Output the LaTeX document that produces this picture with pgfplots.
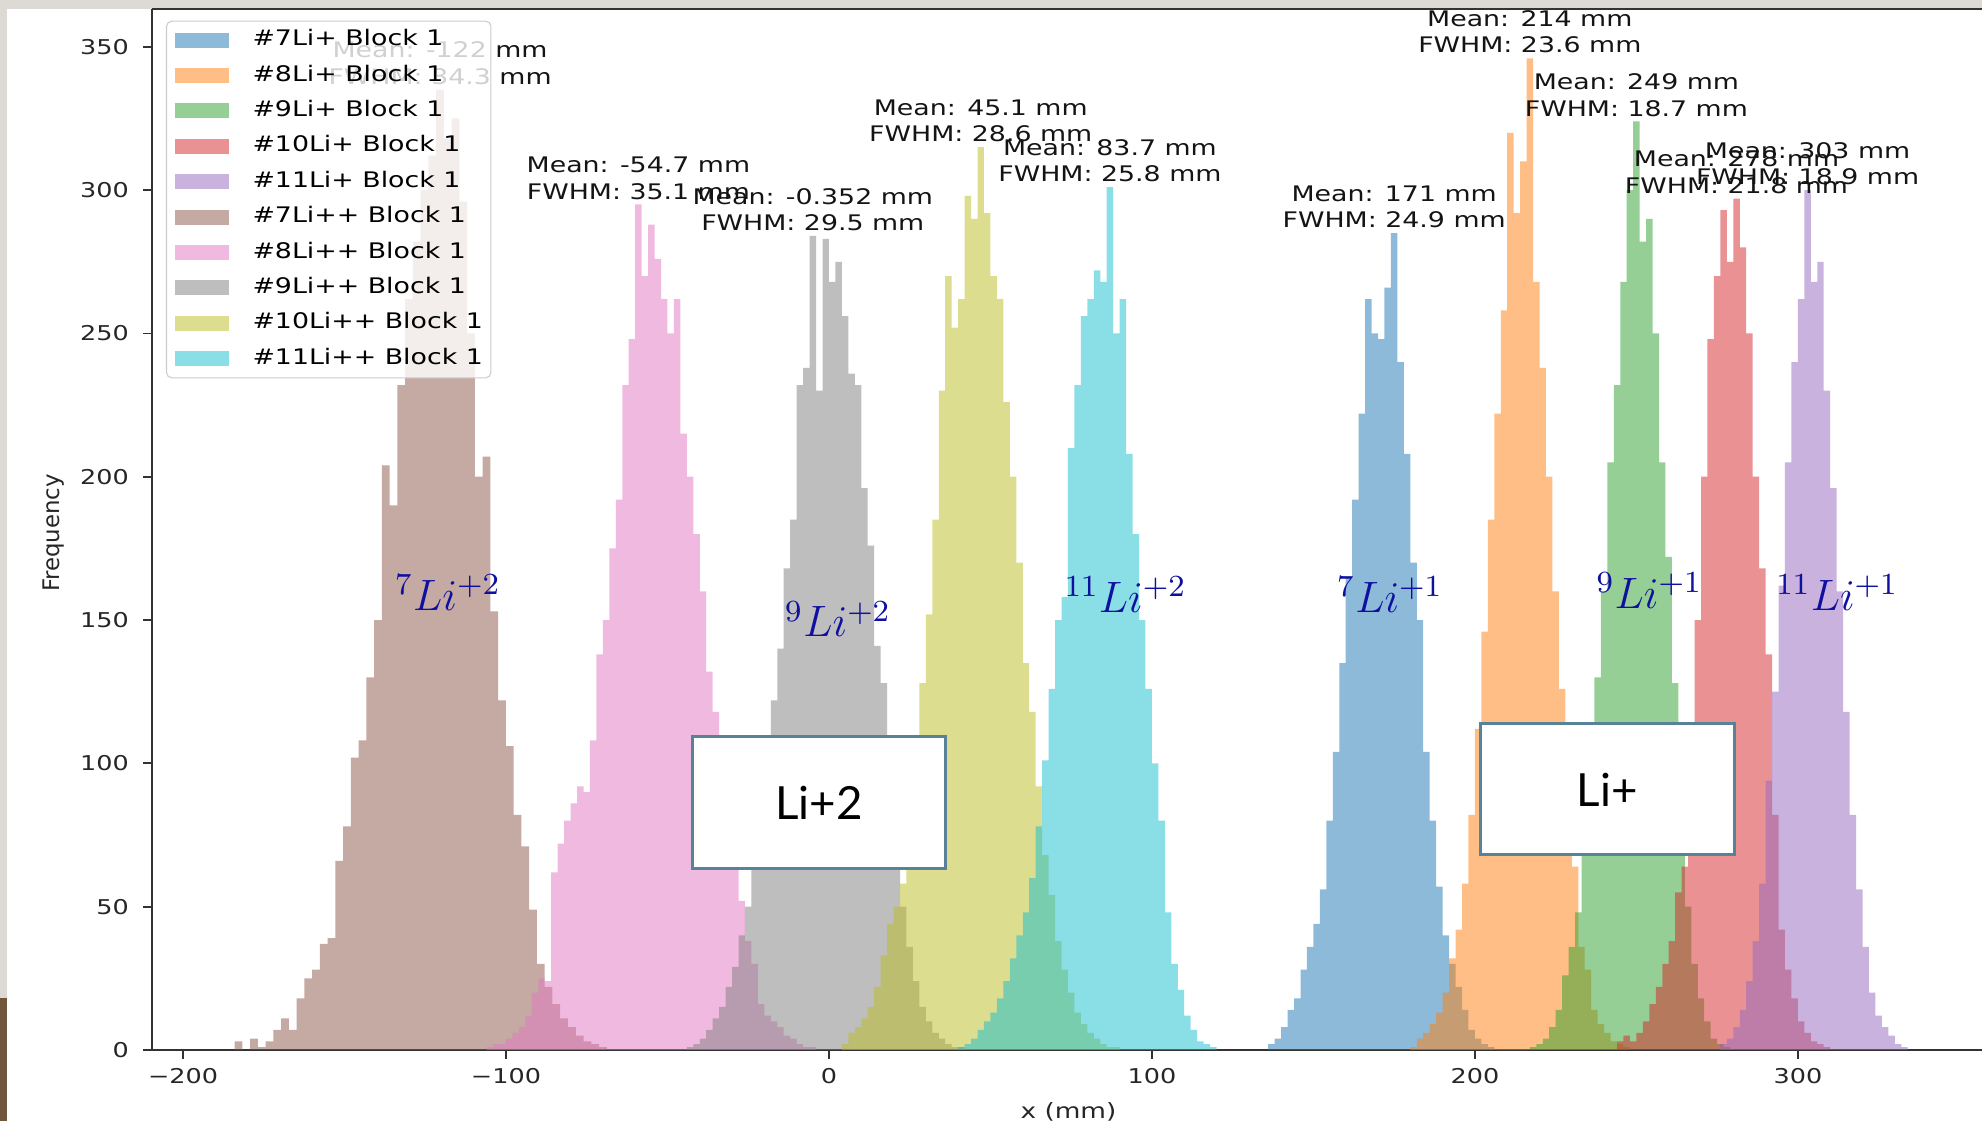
\RequirePackage{fix-cm}
\documentclass[border=0pt]{standalone}
\usepackage{fontspec}
\setmainfont{DejaVu Sans}[FakeStretch=1.25]
\newfontfamily\plainsans{DejaVu Sans}
\newfontfamily\boxfont{Lato}
\usepackage{pgfplots}
\pgfplotsset{compat=1.18}

\definecolor{tabblue}{RGB}{31,119,180}
\definecolor{taborange}{RGB}{255,127,14}
\definecolor{tabgreen}{RGB}{44,160,44}
\definecolor{tabred}{RGB}{214,39,40}
\definecolor{tabpurple}{RGB}{148,103,189}
\definecolor{tabbrown}{RGB}{140,86,75}
\definecolor{tabpink}{RGB}{227,119,194}
\definecolor{tabgray}{RGB}{127,127,127}
\definecolor{tabolive}{RGB}{188,189,34}
\definecolor{tabcyan}{RGB}{23,190,207}
\definecolor{isoblue}{RGB}{16,16,160}
\definecolor{boxedge}{RGB}{88,130,152}
\definecolor{bggray}{RGB}{221,218,213}
\definecolor{woodbrown}{RGB}{112,86,58}

\tikzset{
  ann/.style={anchor=south, align=center, inner sep=0pt, yshift=0.43mm,
    font=\fontsize{6.1}{7.55}\selectfont, text=black!92},
  iso/.style={anchor=base, inner sep=0pt, text=isoblue, font=\fontsize{12.5}{14}\selectfont},
}
\pgfplotsset{hist/.style={const plot, fill=#1, fill opacity=0.5, draw=none}}

\begin{document}
\begin{tikzpicture}[x=1cm,y=1cm]
\useasboundingbox (0,0) rectangle (19.82,11.21);
\clip (0,0) rectangle (19.82,11.21);
\fill[white] (0,0) rectangle (19.82,11.21);
\begin{axis}[
  at={(1.52cm,0.71cm)}, anchor=south west,
  scale only axis, width=18.30cm, height=10.41cm,
  xmin=-209.6, xmax=357, ymin=0, ymax=363.2,
  axis x line*=bottom, axis y line*=left,
  axis line style={black!80, line width=0.22mm},
  tick align=outside, major tick length=0.09cm,
  tick style={black!80, line width=0.18mm},
  xtick={-200,-100,0,100,200,300},
  xticklabels={−200,−100,0,100,200,300},
  ytick={0,50,100,150,200,250,300,350},
  yticklabels={0,50,100,150,200,250,300,350},
  tick label style={font=\fontsize{5.8}{6}\selectfont, text=black!85, inner sep=0pt},
  xticklabel style={yshift=-0.9mm},
  yticklabel style={xshift=-1.35mm},
  clip=false,
  legend style={
    at={(0.00765,0.98876)}, anchor=north west,
    draw=black!20, line width=0.3pt, rounded corners=1.5pt,
    fill=white, fill opacity=0.8, text opacity=1,
    inner xsep=0.08cm, inner ysep=0.09cm,
    font=\fontsize{6.1}{7}\selectfont,
    row sep=0.154cm,
    /tikz/every odd column/.append style={column sep=0.234cm},
    nodes={inner sep=0pt, text height=0.155cm, text depth=0.045cm},
  },
  legend cell align=left,
  legend image code/.code={\fill[#1, sharp corners] (0cm,-0.075cm) rectangle (0.546cm,0.075cm);},
]
% #7Li+
\addplot[hist=tabblue] coordinates {(136,2)(138,4)(140,8)(142,14)(144,18)(146,28)(148,36)(150,44)(152,56)(154,80)(156,104)(158,135)(160,165)(162,192)(164,222)(166,262)(168,250)(170,248)(172,266)(174,285)(176,240)(178,208)(180,170)(182,150)(184,104)(186,80)(188,57)(190,40)(192,30)(194,22)(196,14)(198,7)(200,4)(202,2)(204,1)(206,0)} \closedcycle;
\addlegendentry{\#7Li+ Block 1}
% #8Li+
\addplot[hist=taborange] coordinates {(180,1)(182,4)(184,6)(186,9)(188,13)(190,20)(192,32)(194,42)(196,58)(198,82)(200,112)(202,146)(204,185)(206,222)(208,258)(210,320)(212,292)(214,310)(216,346)(218,268)(220,238)(222,200)(224,160)(226,126)(228,92)(230,64)(232,36)(234,28)(236,14)(238,9)(240,6)(242,3)(244,2)(246,1)(248,0)} \closedcycle;
\addlegendentry{\#8Li+ Block 1}
% #9Li+
\addplot[hist=tabgreen] coordinates {(217,1)(219,2)(221,4)(223,8)(225,14)(227,26)(229,36)(231,48)(233,68)(235,96)(237,130)(239,160)(241,205)(243,232)(245,268)(247,300)(249,324)(251,282)(253,290)(255,250)(257,205)(259,172)(261,128)(263,90)(265,50)(267,30)(269,18)(271,10)(273,4)(275,2)(277,1)(279,0)} \closedcycle;
\addlegendentry{\#9Li+ Block 1}
% #10Li+
\addplot[hist=tabred] coordinates {(244,3)(246,5)(248,3)(250,6)(252,10)(254,16)(256,22)(258,30)(260,38)(262,55)(264,64)(266,110)(268,150)(270,200)(272,248)(274,270)(276,293)(278,275)(280,297)(282,280)(284,250)(286,200)(288,168)(290,138)(292,82)(294,42)(296,28)(298,18)(300,10)(302,6)(304,3)(306,2)(308,1)(310,0)} \closedcycle;
\addlegendentry{\#10Li+ Block 1}
% #11Li+
\addplot[hist=tabpurple] coordinates {(276,2)(278,4)(280,8)(282,14)(284,24)(286,38)(288,58)(290,94)(292,125)(294,162)(296,205)(298,240)(300,262)(302,300)(304,268)(306,275)(308,230)(310,196)(312,160)(314,118)(316,82)(318,56)(320,36)(322,20)(324,12)(326,8)(328,5)(330,2)(332,1)(334,0)} \closedcycle;
\addlegendentry{\#11Li+ Block 1}
% #7Li++
\addplot[hist=tabbrown] coordinates {(-184.0,3)(-181.6,0)(-179.2,4)(-176.8,1)(-174.4,3)(-172.0,7)(-169.6,11)(-167.2,7)(-164.8,18)(-162.4,25)(-160.0,28)(-157.6,37)(-155.2,39)(-152.8,66)(-150.4,78)(-148.0,102)(-145.6,108)(-143.2,130)(-140.8,150)(-138.4,204)(-136.0,190)(-133.6,232)(-131.2,262)(-128.8,282)(-126.4,300)(-124.0,312)(-121.6,335)(-119.2,318)(-116.8,325)(-114.4,296)(-112.0,250)(-109.6,200)(-107.2,207)(-104.8,153)(-102.4,122)(-100.0,106)(-97.6,82)(-95.2,71)(-92.8,49)(-90.4,30)(-88.0,22)(-85.6,16)(-83.2,11)(-80.8,8)(-78.4,5)(-76.0,3)(-73.6,2)(-71.2,1)(-68.8,0)} \closedcycle;
\addlegendentry{\#7Li++ Block 1}
% #8Li++
\addplot[hist=tabpink] coordinates {(-106,1)(-104,2)(-102,2)(-100,4)(-98,6)(-96,8)(-94,12)(-92,20)(-90,25)(-88,24)(-86,62)(-84,72)(-82,80)(-80,86)(-78,92)(-76,90)(-74,108)(-72,138)(-70,150)(-68,175)(-66,192)(-64,232)(-62,248)(-60,295)(-58,270)(-56,288)(-54,276)(-52,262)(-50,250)(-48,262)(-46,215)(-44,200)(-42,180)(-40,160)(-38,132)(-36,118)(-34,96)(-32,80)(-30,63)(-28,52)(-26,38)(-24,30)(-22,16)(-20,12)(-18,10)(-16,8)(-14,5)(-12,4)(-10,2)(-8,1)(-6,1)(-4,0)} \closedcycle;
\addlegendentry{\#8Li++ Block 1}
% #9Li++
\addplot[hist=tabgray] coordinates {(-44,1)(-42,2)(-40,4)(-38,7)(-36,11)(-34,15)(-32,22)(-30,29)(-28,40)(-26,50)(-24,64)(-22,80)(-20,98)(-18,122)(-16,140)(-14,168)(-12,185)(-10,232)(-8,238)(-6,284)(-4,230)(-2,283)(0,268)(2,275)(4,256)(6,236)(8,232)(10,196)(12,176)(14,141)(16,128)(18,96)(20,72)(22,50)(24,36)(26,24)(28,15)(30,10)(32,6)(34,4)(36,2)(38,1)(40,1)(42,0)} \closedcycle;
\addlegendentry{\#9Li++ Block 1}
% #10Li++
\addplot[hist=tabolive] coordinates {(4,2)(6,6)(8,8)(10,11)(12,15)(14,22)(16,33)(18,44)(20,50)(22,58)(24,82)(26,102)(28,128)(30,152)(32,185)(34,230)(36,270)(38,252)(40,262)(42,298)(44,290)(46,315)(48,292)(50,270)(52,262)(54,226)(56,200)(58,170)(60,135)(62,118)(64,92)(66,68)(68,54)(70,38)(72,28)(74,20)(76,13)(78,9)(80,6)(82,4)(84,2)(86,1)(88,1)(90,0)} \closedcycle;
\addlegendentry{\#10Li++ Block 1}
% #11Li++
\addplot[hist=tabcyan] coordinates {(40,1)(42,2)(44,4)(46,7)(48,10)(50,13)(52,18)(54,24)(56,32)(58,40)(60,48)(62,60)(64,78)(66,101)(68,126)(70,150)(72,158)(74,210)(76,232)(78,256)(80,262)(82,272)(84,268)(86,301)(88,250)(90,262)(92,208)(94,180)(96,150)(98,126)(100,100)(102,80)(104,48)(106,30)(108,21)(110,12)(112,7)(114,3)(116,2)(118,1)(120,0)} \closedcycle;
\addlegendentry{\#11Li++ Block 1}

% annotations (placed at the tallest bin of each histogram)
\node[ann] at (axis cs:175,285) {Mean: 171 mm\\FWHM: 24.9 mm};
\node[ann] at (axis cs:217,346) {Mean: 214 mm\\FWHM: 23.6 mm};
\node[ann] at (axis cs:250,324) {Mean: 249 mm\\FWHM: 18.7 mm};
\node[ann] at (axis cs:281,297) {Mean: 278 mm\\FWHM: 21.8 mm};
\node[ann] at (axis cs:303,300) {Mean: 303 mm\\FWHM: 18.9 mm};
\node[ann] at (axis cs:-120.4,335) {Mean: -122 mm\\FWHM: 34.3 mm};
\node[ann] at (axis cs:-59,295) {Mean: -54.7 mm\\FWHM: 35.1 mm};
\node[ann] at (axis cs:-5,284) {Mean: -0.352 mm\\FWHM: 29.5 mm};
\node[ann] at (axis cs:47,315) {Mean: 45.1 mm\\FWHM: 28.6 mm};
\node[ann] at (axis cs:87,301) {Mean: 83.7 mm\\FWHM: 25.8 mm};

% isotope labels
\node[iso] at (axis cs:-118,153.5) {${}^{7}Li^{+2}$};
\node[iso] at (axis cs:2.8,144.1) {${}^{9}Li^{+2}$};
\node[iso] at (axis cs:91.8,152.8) {${}^{11}Li^{+2}$};
\node[iso] at (axis cs:173.7,152.7) {${}^{7}Li^{+1}$};
\node[iso] at (axis cs:254,154) {${}^{9}Li^{+1}$};
\node[iso] at (axis cs:312.2,153.4) {${}^{11}Li^{+1}$};

% boxes
\draw[fill=white, draw=boxedge, line width=0.3mm] (axis cs:-42.23,63.40) rectangle (axis cs:36.10,109.32);
\node[font=\boxfont\fontsize{13}{15}\selectfont, inner sep=0pt] at (axis cs:-3.07,86.2) {Li+2};
\draw[fill=white, draw=boxedge, line width=0.3mm] (axis cs:201.73,68.04) rectangle (axis cs:280.25,113.99);
\node[font=\boxfont\fontsize{13}{15}\selectfont, inner sep=0pt] at (axis cs:240.99,90.7) {Li+};
\end{axis}

% axis labels
\node[rotate=90, inner sep=0pt, font=\plainsans\fontsize{6.5}{7}\selectfont, text=black!85] at (0.535,5.88) {Frequency};
\node[anchor=north, inner sep=0pt, font=\fontsize{6}{7}\selectfont, text=black!85] at (10.685,0.193) {x (mm)};

% screenshot frame
\fill[bggray] (0,11.12) rectangle (19.82,11.21);
\fill[bggray] (0,0) rectangle (0.07,11.21);
\fill[woodbrown] (0,0) rectangle (0.07,1.23);
\draw[black!80, line width=0.22mm] (1.52,11.12) -- (19.82,11.12);
\end{tikzpicture}
\end{document}
